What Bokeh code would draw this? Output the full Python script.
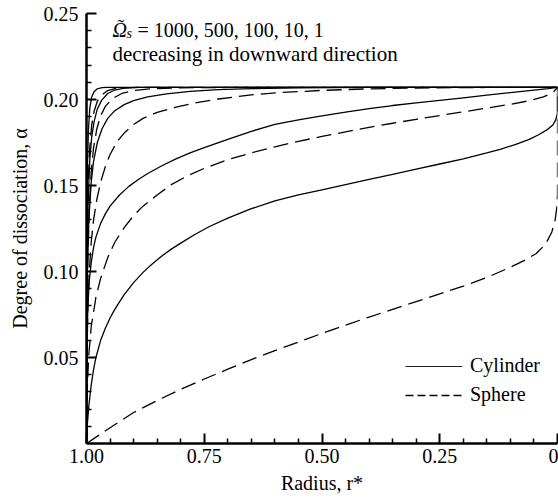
from bokeh.plotting import figure
from bokeh.models import (Range1d, FixedTicker, CustomJSTickFormatter, Label,
                          Legend, LegendItem)
from bokeh.embed import file_html
from bokeh.resources import INLINE

# ---------------- data (radius r*, degree of dissociation alpha) -------------
cyl_1000_r = [1.0, 0.9997, 0.999, 0.998, 0.996, 0.993, 0.989, 0.984, 0.977, 0.967, 0.955, 0.0]
cyl_1000_a = [0.0, 0.08, 0.13, 0.16, 0.182, 0.195, 0.2015, 0.2045, 0.2062, 0.2069, 0.207, 0.207]

sph_1000_r = [1.0, 0.9995, 0.998, 0.996, 0.993, 0.989, 0.984, 0.977, 0.968, 0.955, 0.94, 0.92, 0.89, 0.0]
sph_1000_a = [0.0, 0.085, 0.13, 0.155, 0.172, 0.185, 0.193, 0.199, 0.2025, 0.2052, 0.2063, 0.2068, 0.207, 0.207]

cyl_500_r = [1.0, 0.9995, 0.998, 0.996, 0.993, 0.989, 0.984, 0.977, 0.968, 0.955, 0.94, 0.92, 0.89, 0.0]
cyl_500_a = [0.0, 0.075, 0.12, 0.145, 0.165, 0.178, 0.187, 0.1945, 0.1995, 0.2035, 0.2055, 0.2066, 0.207, 0.207]

sph_500_r = [1.0, 0.999, 0.997, 0.994, 0.99, 0.985, 0.978, 0.97, 0.96, 0.945, 0.925, 0.9,
             0.86, 0.8, 0.7, 0.0]
sph_500_a = [0.0, 0.07, 0.11, 0.138, 0.158, 0.172, 0.183, 0.1905, 0.196, 0.2005, 0.2035, 0.2052,
             0.2063, 0.2068, 0.207, 0.207]

cyl_100_r = [1.0, 0.9995, 0.998, 0.995, 0.99, 0.985, 0.977, 0.967, 0.955, 0.94, 0.92, 0.9,
             0.87, 0.83, 0.78, 0.72, 0.65, 0.55, 0.4, 0.0]
cyl_100_a = [0.0, 0.06, 0.10, 0.13, 0.152, 0.164, 0.175, 0.183, 0.189, 0.1935, 0.197, 0.1993,
             0.2015, 0.2033, 0.2047, 0.2057, 0.2063, 0.2068, 0.207, 0.207]

sph_100_r = [1.0, 0.999, 0.997, 0.994, 0.99, 0.985, 0.978, 0.97, 0.96, 0.95, 0.935, 0.92,
             0.9, 0.88, 0.85, 0.81, 0.77, 0.72, 0.65, 0.59, 0.5, 0.4, 0.3, 0.15, 0.0]
sph_100_a = [0.0, 0.05, 0.08, 0.10, 0.117, 0.13, 0.142, 0.152, 0.161, 0.168, 0.1755, 0.1805,
             0.1855, 0.189, 0.1925, 0.1955, 0.198, 0.2003, 0.2027, 0.204, 0.2053, 0.2062,
             0.2067, 0.207, 0.207]

cyl_10_r = [1.0, 0.999, 0.997, 0.994, 0.99, 0.985, 0.98, 0.97, 0.96, 0.95, 0.93, 0.91,
            0.89, 0.87, 0.84, 0.81, 0.78, 0.75, 0.7, 0.65, 0.6, 0.55, 0.5, 0.45, 0.4,
            0.35, 0.3, 0.25, 0.2, 0.15, 0.1, 0.05, 0.02, 0.0]
cyl_10_a = [0.0, 0.06, 0.08, 0.095, 0.105, 0.114, 0.12, 0.128, 0.1335, 0.138, 0.1445, 0.1495,
            0.1535, 0.157, 0.1615, 0.1655, 0.169, 0.172, 0.1768, 0.1815, 0.1855, 0.1882, 0.1905,
            0.1927, 0.1947, 0.1965, 0.198, 0.1995, 0.201, 0.2025, 0.204, 0.2055, 0.2063, 0.207]

sph_10_r = [1.0, 0.998, 0.995, 0.99, 0.98, 0.97, 0.955, 0.94, 0.92, 0.9, 0.88, 0.85, 0.82,
            0.79, 0.75, 0.7, 0.65, 0.6, 0.55, 0.5, 0.45, 0.4, 0.35, 0.3, 0.25, 0.2, 0.15,
            0.1, 0.06, 0.03, 0.01, 0.0]
sph_10_a = [0.0, 0.035, 0.052, 0.068, 0.085, 0.096, 0.108, 0.117, 0.1255, 0.1325, 0.138,
            0.1445, 0.1505, 0.155, 0.16, 0.165, 0.169, 0.1725, 0.1757, 0.1785, 0.1812, 0.1838,
            0.1862, 0.1885, 0.1907, 0.1928, 0.195, 0.1972, 0.1993, 0.2015, 0.204, 0.207]

cyl_1_r = [1.0, 0.998, 0.995, 0.99, 0.985, 0.98, 0.97, 0.96, 0.95, 0.94, 0.92, 0.9, 0.88,
           0.86, 0.84, 0.82, 0.8, 0.77, 0.74, 0.7, 0.65, 0.6, 0.55, 0.5, 0.45, 0.4, 0.35,
           0.3, 0.25, 0.2, 0.15, 0.12, 0.09, 0.06, 0.04, 0.02, 0.01, 0.004, 0.0, 0.0]
cyl_1_a = [0.0, 0.012, 0.022, 0.034, 0.043, 0.05, 0.06, 0.067, 0.073, 0.078, 0.0865, 0.0935,
           0.0995, 0.1045, 0.109, 0.113, 0.1165, 0.1215, 0.126, 0.131, 0.1365, 0.141, 0.1445,
           0.1475, 0.1505, 0.1535, 0.1565, 0.1595, 0.1625, 0.1655, 0.169, 0.1712, 0.1738,
           0.1768, 0.1795, 0.1828, 0.1852, 0.188, 0.192, 0.207]

sph_1_r = [1.0, 0.95, 0.9, 0.85, 0.8, 0.75, 0.7, 0.65, 0.6, 0.55, 0.5, 0.45, 0.4, 0.35,
           0.3, 0.25, 0.2, 0.15, 0.1, 0.07, 0.045, 0.025, 0.012, 0.005, 0.0015, 0.0, 0.0]
sph_1_a = [0.0, 0.0092, 0.018, 0.025, 0.0315, 0.0375, 0.0432, 0.0488, 0.054, 0.059, 0.064,
           0.0688, 0.0735, 0.078, 0.0825, 0.087, 0.0915, 0.0965, 0.1025, 0.1065, 0.1105,
           0.116, 0.123, 0.13, 0.137, 0.145, 0.207]

cylinder_curves = [(cyl_1000_r, cyl_1000_a), (cyl_500_r, cyl_500_a), (cyl_100_r, cyl_100_a),
                   (cyl_10_r, cyl_10_a), (cyl_1_r, cyl_1_a)]
sphere_curves = [(sph_1000_r, sph_1000_a), (sph_500_r, sph_500_a), (sph_100_r, sph_100_a),
                 (sph_10_r, sph_10_a), (sph_1_r, sph_1_a)]

x_ticks = [1.0, 0.75, 0.5, 0.25, 0.0]
x_minor = [0.95, 0.9, 0.85, 0.8, 0.7, 0.65, 0.6, 0.55, 0.45, 0.4, 0.35, 0.3,
           0.2, 0.15, 0.1, 0.05]
y_ticks = [0.05, 0.10, 0.15, 0.20, 0.25]
y_minor = [0.01, 0.02, 0.03, 0.04, 0.06, 0.07, 0.08, 0.09, 0.11, 0.12, 0.13, 0.14,
           0.16, 0.17, 0.18, 0.19, 0.21, 0.22, 0.23, 0.24]

omega_values = "= 1000, 500, 100, 10, 1"
note_text = "decreasing in downward direction"

# ---------------- figure ---------------------------------------------------
FONT = "Liberation Serif"
AXFONT = "'Liberation Serif'"
p = figure(width=558, height=503, output_backend="svg", toolbar_location=None,
           x_range=Range1d(1.0, 0.0), y_range=Range1d(0.0, 0.25),
           min_border_left=86, min_border_right=1, min_border_top=13,
           min_border_bottom=60)
p.outline_line_color = None
p.grid.visible = False

LW = 1.3
for r, a in cylinder_curves:
    p.line(r, a, line_color="black", line_width=LW)
for r, a in sphere_curves:
    p.line(r, a, line_color="black", line_width=LW, line_dash="15 7")

fmt = CustomJSTickFormatter(code="return tick == 0 ? '0' : tick.toFixed(2);")
for ax, tk, mn in ((p.xaxis[0], x_ticks, x_minor), (p.yaxis[0], y_ticks, y_minor)):
    ax.ticker = FixedTicker(ticks=tk, minor_ticks=mn)
    ax.formatter = fmt
    ax.axis_line_width = 2.5
    ax.axis_line_color = "black"
    ax.major_tick_in = 10
    ax.major_tick_out = 0
    ax.minor_tick_in = 5
    ax.minor_tick_out = 0
    ax.major_tick_line_width = 2
    ax.minor_tick_line_width = 1.5
    ax.major_tick_line_color = "black"
    ax.minor_tick_line_color = "black"
    ax.major_label_text_font = AXFONT
    ax.major_label_text_font_size = "20px"
    ax.major_label_text_color = "black"
    ax.axis_label_text_font = AXFONT
    ax.axis_label_text_font_size = "20px"
    ax.axis_label_text_font_style = "normal"
    ax.axis_label_text_color = "black"

p.xaxis[0].axis_label = "Radius, r*"
p.xaxis[0].major_label_standoff = 5
p.xaxis[0].axis_label_standoff = 6
p.yaxis[0].axis_label = "Degree of dissociation, α"
p.yaxis[0].major_label_standoff = 8
p.yaxis[0].axis_label_standoff = 10

# ---------------- annotation text ------------------------------------------
p.add_layout(Label(x=1.0, y=0.2404, x_offset=26, text="\u03A9",
                   text_font=FONT, text_font_style="italic", text_font_size="20px",
                   text_baseline="alphabetic", text_color="black"))
p.add_layout(Label(x=1.0, y=0.2421, x_offset=31, text="\u02DC",
                   text_font=FONT, text_font_size="20px",
                   text_baseline="alphabetic", text_color="black"))
p.add_layout(Label(x=1.0, y=0.2384, x_offset=40, text="s",
                   text_font=FONT, text_font_style="italic", text_font_size="14px",
                   text_baseline="alphabetic", text_color="black"))
p.add_layout(Label(x=1.0, y=0.2404, x_offset=51, text=omega_values,
                   text_font=FONT, text_font_size="20px",
                   text_baseline="alphabetic", text_color="black"))
p.add_layout(Label(x=1.0, y=0.2267, x_offset=26, text=note_text,
                   text_font=FONT, text_font_size="21px",
                   text_baseline="alphabetic", text_color="black"))

# ---------------- legend ---------------------------------------------------
nan = float("nan")
leg_cyl = p.line([nan, nan], [nan, nan], line_color="#222222", line_width=1.2)
leg_sph = p.line([nan, nan], [nan, nan], line_color="black", line_width=1.3, line_dash="8 4")
legend = Legend(items=[LegendItem(label="Cylinder", renderers=[leg_cyl]),
                       LegendItem(label="Sphere", renderers=[leg_sph])],
                location=(319, 37), border_line_color=None, background_fill_alpha=0,
                padding=0, margin=0, spacing=6, glyph_width=57, glyph_height=20,
                label_height=20, label_standoff=8, label_text_font=FONT,
                label_text_font_size="20px", label_text_color="black")
p.add_layout(legend)

open("out.html", "w").write(file_html(p, INLINE))
